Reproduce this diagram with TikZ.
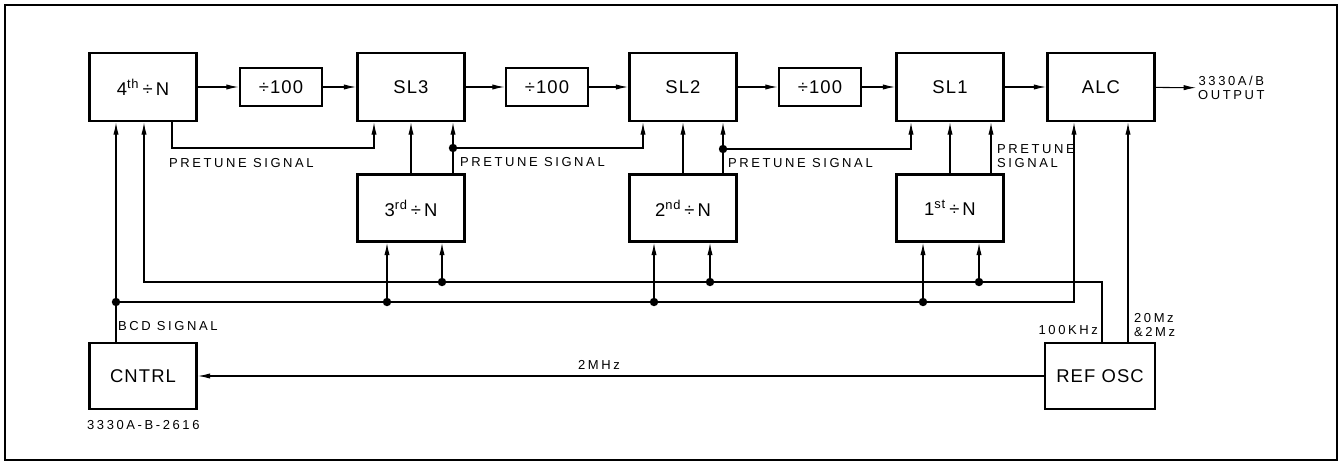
\documentclass[tikz,border=0pt]{standalone}
\usepackage{fontspec}
\setmainfont{Liberation Sans}
\usetikzlibrary{arrows.meta, positioning}

\newcommand{\boxfont}{\fontsize{10.5}{12}\selectfont\addfontfeatures{LetterSpace=6}}
\newcommand{\tagfont}{\fontsize{7.4}{7.8}\selectfont\addfontfeatures{LetterSpace=20}}

\tikzset{
  blk/.style={draw, line width=1.6pt, inner sep=0pt, font=\boxfont,
    minimum width=2.14cm, minimum height=1.36cm},
  hbox/.style={blk, minimum width=1.64cm, minimum height=0.76cm},
  lbl/.style={font=\tagfont, inner sep=1pt, align=left},
  wire/.style={line width=0.6pt},
}

\begin{document}
\begin{tikzpicture}[x=0.02cm, y=-0.02cm, >={Latex[length=7pt,width=3pt]}]
  \useasboundingbox (0,0) rectangle (1341,466);
  \draw[line width=1pt] (5,5) rectangle (1337,460);

  % divider chain, top row
  \node[blk] (div4) at (143,87) {4\textsuperscript{th}\,÷\,N};
  \node[hbox] (hund3) at (281,87) {÷100};
  \node[blk] (sl3) at (411,87) {SL3};
  \node[hbox] (hund2) at (547,87) {÷100};
  \node[blk] (sl2) at (683,87) {SL2};
  \node[hbox] (hund1) at (820,87) {÷100};
  \node[blk] (sl1) at (950,87) {SL1};
  \node[blk] (alc) at (1101,87) {ALC};
  \node[lbl, align=center, anchor=west] (out) at (1196,88) {3330A/B\\OUTPUT};

  % second row and control
  \node[blk, minimum height=1.34cm] (div3) at (411,208) {3\textsuperscript{rd}\,÷\,N};
  \node[blk, minimum height=1.34cm] (div2) at (683,208) {2\textsuperscript{nd}\,÷\,N};
  \node[blk, minimum height=1.34cm] (div1) at (950,208) {1\textsuperscript{st}\,÷\,N};
  \node[blk, minimum height=1.32cm] (cntrl) at (143,376) {CNTRL};
  \node[blk, minimum width=2.2cm, minimum height=1.32cm] (refosc) at (1100,376) {REF OSC};

  \draw[wire, ->] (div4) -- (hund3);
  \draw[wire, ->] (hund3) -- (sl3);
  \draw[wire, ->] (sl3) -- (hund2);
  \draw[wire, ->] (hund2) -- (sl2);
  \draw[wire, ->] (sl2) -- (hund1);
  \draw[wire, ->] (hund1) -- (sl1);
  \draw[wire, ->] (sl1) -- (alc);
  \draw[wire, ->] (alc) -- (out);

  \draw[wire, ->] (div3) -- (sl3);
  \draw[wire, ->] (div2) -- (sl2);
  \draw[wire, ->] (div1) -- (sl1);

  % pretune paths
  \coordinate (q4) at (172,148);
  \coordinate (q3) at (374,148);
  \draw[wire, ->] (div4.south -| q4) -- (q4) -- (q3) -- (sl3.south -| q3);
  \coordinate (j3) at (453,148);
  \coordinate (q2) at (643,148);
  \draw[wire, ->] (div3.north -| j3) -- (sl3.south -| j3);
  \draw[wire, ->] (j3) -- (q2) -- (sl2.south -| q2);
  \coordinate (j2) at (723,149);
  \coordinate (q1) at (911,149);
  \draw[wire, ->] (div2.north -| j2) -- (sl2.south -| j2);
  \draw[wire, ->] (j2) -- (q1) -- (sl1.south -| q1);
  \coordinate (j1) at (991,149);
  \draw[wire, ->] (div1.north -| j1) -- (sl1.south -| j1);
  \fill (j3) circle (2.4pt);
  \fill (j2) circle (2.4pt);

  \node[lbl, anchor=west] (pt4) at (167,163) {PRETUNE SIGNAL};
  \node[lbl, anchor=west] (pt3) at (458,162) {PRETUNE SIGNAL};
  \node[lbl, anchor=west] (pt2) at (726,163) {PRETUNE SIGNAL};
  \node[lbl, anchor=west] (pt1) at (995,156) {PRETUNE\\SIGNAL};

  % 100 kHz bus
  \coordinate (u4) at (144,282);
  \coordinate (u3) at (442,282);
  \coordinate (u2) at (710,282);
  \coordinate (u1) at (979,282);
  \coordinate (ur) at (1102,282);
  \draw[wire, ->] (refosc.north -| ur) -- (ur) -- (u4) -- (div4.south -| u4);
  \foreach \p/\b in {u3/div3, u2/div2, u1/div1} {
    \draw[wire, ->] (\p) -- (\b.south -| \p);
    \fill (\p) circle (2.4pt);
  }

  % BCD bus
  \coordinate (l4) at (116,302);
  \coordinate (l3) at (387,302);
  \coordinate (l2) at (654,302);
  \coordinate (l1) at (923,302);
  \coordinate (lr) at (1074,302);
  \draw[wire, ->] (cntrl.north -| l4) -- (div4.south -| l4);
  \draw[wire, ->] (l4) -- (lr) -- (alc.south -| lr);
  \foreach \p/\b in {l3/div3, l2/div2, l1/div1} {
    \draw[wire, ->] (\p) -- (\b.south -| \p);
    \fill (\p) circle (2.4pt);
  }
  \fill (l4) circle (2.4pt);

  % reference oscillator outputs
  \coordinate (r2) at (1128,300);
  \draw[wire, ->] (refosc.north -| r2) -- (alc.south -| r2);
  \draw[wire, ->] (refosc) -- (cntrl);

  \node[lbl, anchor=west] (bcd) at (116,326) {BCD SIGNAL};
  \node[lbl, anchor=east] (khz) at (1100,330) {100KHz};
  \node[lbl, anchor=west] (mz) at (1132,325) {20Mz\\\&2Mz};
  \node[lbl] (mhz) at (599,365) {2MHz};
  \node[lbl, anchor=west] (fig) at (85,425) {3330A-B-2616};
\end{tikzpicture}
\end{document}
